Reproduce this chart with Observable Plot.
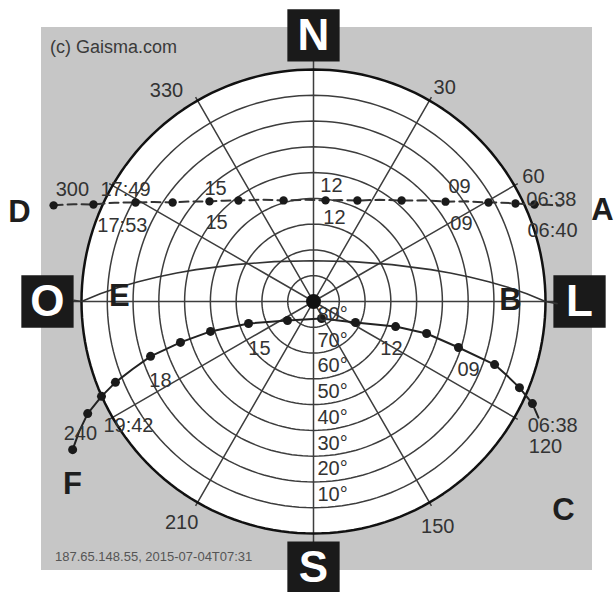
<!DOCTYPE html>
<html><head><meta charset="utf-8">
<script src="https://cdn.jsdelivr.net/npm/d3@7"></script>
<script src="https://cdn.jsdelivr.net/npm/@observablehq/plot@0.6"></script>
<style>
body{margin:0;background:#fff;}
#wrap{position:relative;width:615px;height:592px;overflow:hidden;font-family:"Liberation Sans",Arial,sans-serif;}
#bg{position:absolute;left:41px;top:27px;width:551px;height:543px;background:#c6c6c6;}
#chart{position:absolute;left:0;top:0;}
.note{position:absolute;color:#3a3a3a;white-space:nowrap;line-height:1;}
</style></head><body>
<div id="wrap">
<div id="bg"></div>
<div id="chart"></div>
<div class="note" style="left:50px;top:38px;font-size:18px">(c) Gaisma.com</div>
<div class="note" style="left:55px;top:550px;font-size:13px;color:#555">187.65.148.55, 2015-07-04T07:31</div>
</div>
<script>
// ---- data (azimuth ° clockwise from north, altitude °) ----
const altitudeRings = [10, 20, 30, 40, 50, 60, 70, 80];
const altitudeLabels = ["10°", "20°", "30°", "40°", "50°", "60°", "70°", "80°"];
const azimuthTicks = [30, 60, 120, 150, 210, 240, 300, 330];
const azimuthLabelAz = [31.5, 60.4, 122.0, 151.1, 210.8, 240.5, 294.9, 325.1];
const azimuthLabelAlt = [-7.4, -8.15, -16.1, -9.7, -9.9, -13.9, -13.1, -9.7];
const compassDirs = ["N", "L", "S", "O"];
const compassAz = [0, 90, 180, 270];

// today / June path (dashed)
const juneAz = [290.3, 293.8, 299.1, 305.1, 313.9, 323.4, 343.5, 6.8, 23.5, 41.1, 52.9, 60.5, 64.1, 66.3];
const juneAlt = [-17.5, -3.3, 11.0, 23.2, 34.0, 41.2, 49.1, 50.5, 47.3, 38.0, 25.8, 12.0, 2.9, -3.6];
const juneTailAz = [68.8];
const juneTailAlt = [-12.8];

// equinox path
const equinoxAz = [270.3, 270, 274.2, 278.9, 285.2, 295.2, 315.4, 0, 44.6, 64.8, 74.8, 81.1, 85.8, 90, 90.5];
const equinoxAlt = [-3, 0, 14.4, 28.75, 42.8, 56.4, 68.3, 74.2, 68.3, 56.4, 42.8, 28.75, 14.4, 0, -4.5];

// December path
const decHeadAz = [117.3];
const decHeadAlt = [-8.2];
const decAz = [115.0, 112.7, 109.2, 107.6, 105.8, 107.0, 116.6, 154.8, 233.8, 251.3, 253.8, 252.9, 251.4, 247.8, 245.9, 243.6, 238.4];
const decAlt = [-3.7, 3.4, 15.6, 31.0, 44.4, 56.7, 71.8, 82.7, 77.5, 63.4, 48.4, 36.0, 23.3, 7.0, -0.1, -7.8, -19.7];

// hour labels
const hourText = ["12", "12", "09", "09", "06:38", "06:40", "17:49", "17:53", "15", "15", "15", "18", "19:42", "12", "09", "06:38"];
const hourAz = [8.8, 14.0, 51.8, 62.2, 66.8, 73.5, 300.8, 291.7, 319.1, 309.2, 229.0, 242.7, 236.2, 121.1, 113.7, 117.4];
const hourAlt = [44.5, 56.4, 17.9, 25.1, -10.4, -6.7, 5.1, 10.2, 32.0, 41.5, 62.2, 23.2, 3.6, 54.7, 24.3, -14.5];

// path end letters
const pathLetters = ["A", "B", "C", "D", "E", "F"];
const pathLetterAz = [72.5, 89.7, 129.9, 287.0, 271.5, 232.9];
const pathLetterAlt = [-27.5, 13.6, -36.4, -29.3, 14.7, -27.2];

// ---- helpers ----
const lon = (az) => 180 - az;
const circle = (alt) => d3.geoCircle().center([0, 90]).radius(90 - alt)();
const pts = (azs, alts) => azs.map((a, i) => ({lon: lon(a), lat: alts[i]}));

const june = pts(juneAz, juneAlt);
const juneLine = june.concat(pts(juneTailAz, juneTailAlt));
const equinox = pts(equinoxAz, equinoxAlt);
const dec = pts(decAz, decAlt);
const decLine = pts(decHeadAz, decHeadAlt).concat(dec);
const compass = compassDirs.map((d, i) => ({d, lon: lon(compassAz[i])}));
const azLabels = azimuthTicks.map((t, i) => ({t: String(t), lon: lon(azimuthLabelAz[i]), lat: azimuthLabelAlt[i]}));
const altLabels = altitudeRings.map((a, i) => ({t: altitudeLabels[i], lat: a + 5}));
const hours = hourText.map((t, i) => ({t, lon: lon(hourAz[i]), lat: hourAlt[i]}));
const letters = pathLetters.map((t, i) => ({t, lon: lon(pathLetterAz[i]), lat: pathLetterAlt[i]}));

const gridColor = "#3d3d3d";
const chart = Plot.plot({
  width: 615, height: 592,
  marginLeft: 81, marginRight: 70, marginTop: 69, marginBottom: 59,
  style: {background: "transparent", fontFamily: "Liberation Sans, Arial, sans-serif"},
  projection: {
    type: "azimuthal-equidistant",
    rotate: [0, -90],
    domain: circle(0),
    clip: false
  },
  marks: [
    Plot.geo([circle(0)], {fill: "white", stroke: "none"}),
    Plot.geo(altitudeRings.map(circle), {fill: "none", stroke: gridColor, strokeWidth: 1.5}),
    Plot.link(azimuthTicks, {x1: (a) => lon(a), y1: 90, x2: (a) => lon(a), y2: -1.5, stroke: gridColor, strokeWidth: 1.5}),
    Plot.link(compassAz, {x1: (a) => lon(a), y1: 90, x2: (a) => lon(a), y2: -13, stroke: gridColor, strokeWidth: 1.5}),
    Plot.geo([circle(0)], {fill: "none", stroke: "#111", strokeWidth: 2.5}),
    Plot.dot(compass, {x: "lon", y: -13.2, symbol: "square", r: 29.5, fill: "#1a1a1a"}),
    Plot.text(compass, {x: "lon", y: -13.2, text: "d", fill: "white", fontSize: 44, fontWeight: "bold"}),
    Plot.line(equinox, {x: "lon", y: "lat", stroke: "#333", strokeWidth: 1.6}),
    Plot.line(juneLine, {x: "lon", y: "lat", stroke: "#333", strokeWidth: 2, strokeDasharray: "9,5"}),
    Plot.dot(june, {x: "lon", y: "lat", r: 4.2, fill: "#1a1a1a"}),
    Plot.line(decLine, {x: "lon", y: "lat", stroke: "#222", strokeWidth: 2}),
    Plot.dot(dec, {x: "lon", y: "lat", r: 4.5, fill: "#1a1a1a"}),
    Plot.dot([{lon: 0, lat: 90}], {x: "lon", y: "lat", r: 7.5, fill: "#111"}),
    Plot.text(altLabels, {x: 0, y: "lat", text: "t", textAnchor: "start", dx: 4, fontSize: 20, fill: "#333"}),
    Plot.text(azLabels, {x: "lon", y: "lat", text: "t", fontSize: 20, fill: "#333"}),
    Plot.text(hours, {x: "lon", y: "lat", text: "t", fontSize: 20, fill: "#333"}),
    Plot.text(letters, {x: "lon", y: "lat", text: "t", fontSize: 31, fontWeight: "bold", fill: "#1e1e1e"})
  ]
});
document.getElementById("chart").appendChild(chart);
</script>
</body></html>
